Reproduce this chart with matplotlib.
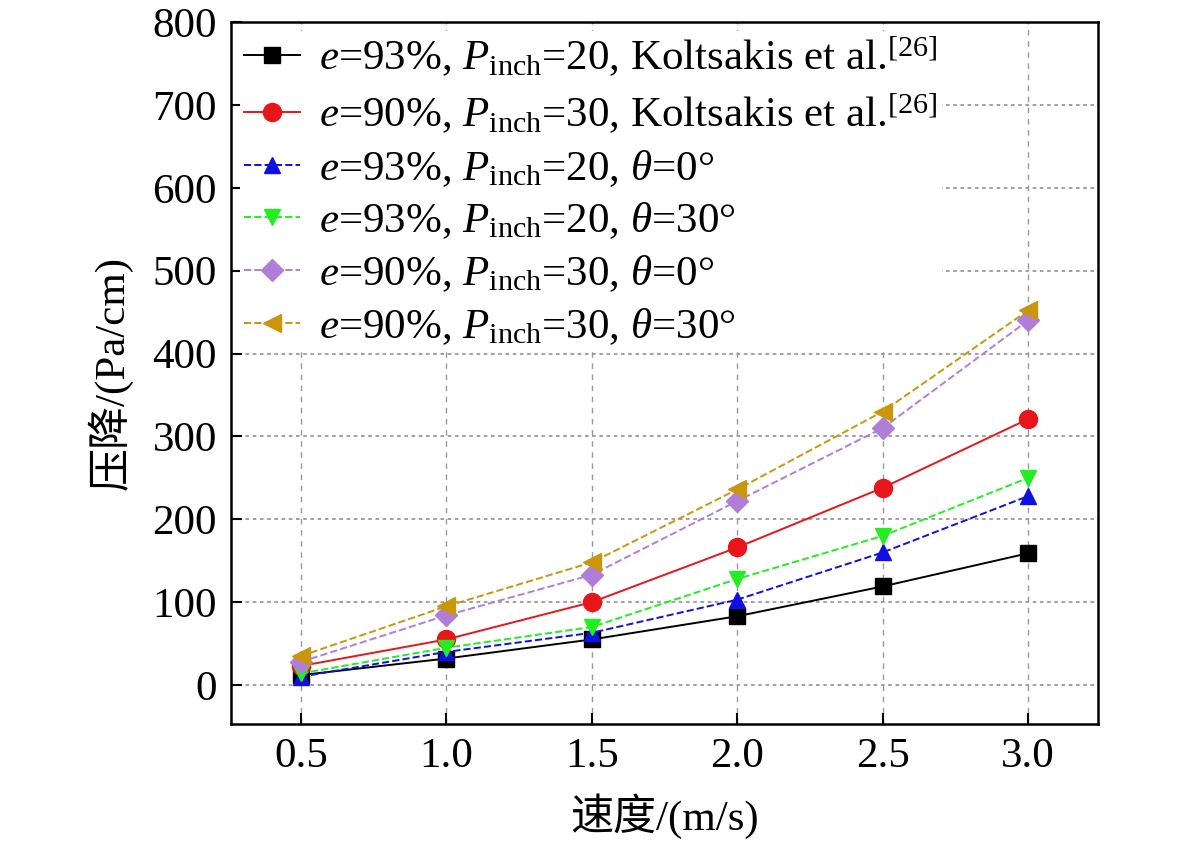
import matplotlib
matplotlib.use('Agg')
import matplotlib.pyplot as plt

plt.rcParams['font.family'] = ['Liberation Serif', 'Noto Sans CJK SC']
plt.rcParams['mathtext.fontset'] = 'custom'
plt.rcParams['mathtext.rm'] = 'Liberation Serif'
plt.rcParams['mathtext.it'] = 'Liberation Serif:italic'

# data
speed = [0.5, 1.0, 1.5, 2.0, 2.5, 3.0]
kol_93 = [12, 32, 55, 83, 119, 159]
kol_90 = [23, 55, 100, 166, 238, 321]
e93_t0 = [10, 40, 63, 103, 160, 228]
e93_t30 = [14, 45, 70, 128, 180, 250]
e90_t0 = [28, 84, 133, 222, 310, 440]
e90_t30 = [35, 95, 148, 236, 330, 452]

labels = [
    r'$e$=93%, $P_{\rm inch}$=20, Koltsakis et al.$^{[26]}$',
    r'$e$=90%, $P_{\rm inch}$=30, Koltsakis et al.$^{[26]}$',
    r'$e$=93%, $P_{\rm inch}$=20, $\theta$=0°',
    r'$e$=93%, $P_{\rm inch}$=20, $\theta$=30°',
    r'$e$=90%, $P_{\rm inch}$=30, $\theta$=0°',
    r'$e$=90%, $P_{\rm inch}$=30, $\theta$=30°',
]

fig = plt.figure(figsize=(11.81, 8.49), dpi=100)
ax = fig.add_axes([231 / 1181, 1 - 724 / 849, (1098 - 231) / 1181, (724 - 22) / 849])

ax.plot(speed, kol_93, '-s', color='black', lw=1.4, ms=11, label=labels[0])
ax.plot(speed, kol_90, '-o', color='#e8161a', lw=1.4, ms=13, label=labels[1])
ax.plot(speed, e93_t0, '--^', color='#1010e0', lw=1.4, ms=12, label=labels[2])
ax.plot(speed, e93_t30, '--v', color='#22ee22', lw=1.4, ms=12, label=labels[3])
ax.plot(speed, e90_t0, '--D', color='#b07ed8', lw=1.4, ms=11, label=labels[4])
ax.plot(speed, e90_t30, '--<', color='#c9960c', lw=1.4, ms=13, label=labels[5])

ax.set_xlim(0.26, 3.24)
ax.set_ylim(-47, 800)
ax.set_xticks(speed)
ax.set_xticklabels(['0.5', '1.0', '1.5', '2.0', '2.5', '3.0'])
ax.set_yticks(range(0, 801, 100))

ax.xaxis.grid(True, linestyle=(0, (4, 4)), color='#999999', lw=1)
ax.yaxis.grid(True, linestyle=(0, (2, 2)), color='#999999', lw=1.3)
ax.set_axisbelow(True)

ax.tick_params(direction='in', length=8, width=1.5, labelsize=31, pad=10)
for s in ax.spines.values():
    s.set_linewidth(1.8)

ax.set_xlabel('速度/(m/s)', fontsize=31, labelpad=12)
ax.set_ylabel('压降/(Pa/cm)', fontsize=31, labelpad=14)

leg = ax.legend(loc='upper left', fontsize=31, frameon=True, framealpha=1,
                edgecolor='none', handlelength=1.3, handletextpad=0.45,
                labelspacing=0.28, borderpad=0.1, borderaxespad=0.2)
leg.get_frame().set_linewidth(0)

fig.savefig('out.png', dpi=100)
